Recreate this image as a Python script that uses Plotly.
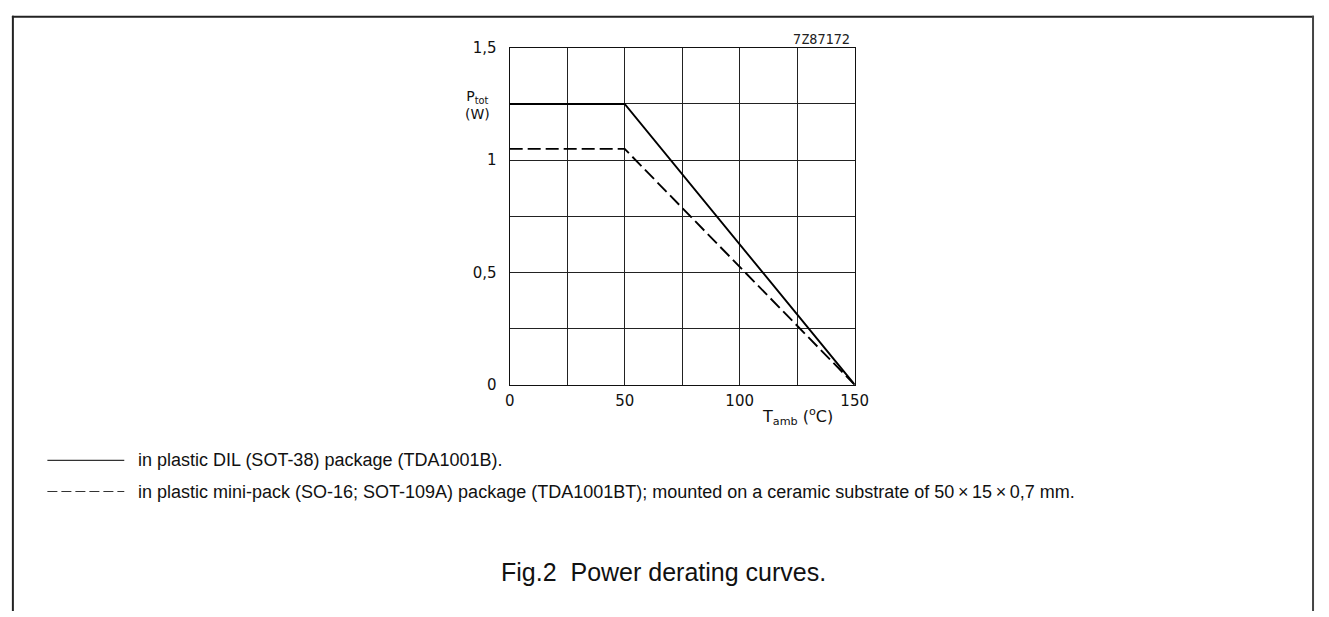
import plotly.graph_objects as go

W, H = 1329, 617

# data
t_solid = [0, 50, 150]
p_solid = [1.25, 1.25, 0]
t_dash = [0, 50, 150]
p_dash = [1.05, 1.05, 0]

x_ticks = [0, 50, 100, 150]
x_labels = ["0", "50", "100", "150"]
y_ticks = [0, 0.5, 1.0, 1.5]
y_labels = ["0", "0,5", "1", "1,5"]
x_grid_step = 25
y_grid_step = 0.25

legend_texts = [
    "in plastic DIL (SOT-38) package (TDA1001B).",
    "in plastic mini-pack (SO-16; SOT-109A) package (TDA1001BT); mounted on a ceramic substrate of 50\u2009\u00d7\u200915\u2009\u00d7\u20090,7 mm.",
]
caption = "Fig.2  Power derating curves."
code_label = "7Z87172"

def px(x):
    return x / W

def py(y):
    return 1 - y / H

fig = go.Figure()
fig.add_trace(go.Scatter(x=t_solid, y=p_solid, mode="lines",
                         line=dict(color="black", width=1.9), showlegend=False))
fig.add_trace(go.Scatter(x=t_dash, y=p_dash, mode="lines",
                         line=dict(color="black", width=1.9, dash="13px,5px"), showlegend=False))

axis_font = dict(family="DejaVu Sans, sans-serif", size=15, color="#111")
grid_col = "#222"
fig.update_layout(
    width=W, height=H,
    margin=dict(l=0, r=0, t=0, b=0),
    paper_bgcolor="white", plot_bgcolor="white",
    font=dict(family="Liberation Sans, Arial, sans-serif", color="#111"),
    xaxis=dict(domain=[px(512), px(862)], range=[0, 150], tickvals=x_ticks, ticktext=x_labels,
               showgrid=True, gridcolor=grid_col, gridwidth=1, zeroline=False,
               minor=dict(dtick=x_grid_step, tick0=0, showgrid=True, gridcolor=grid_col, gridwidth=1),
               showline=True, linecolor="#111", linewidth=1.2, mirror=True,
               ticks="", tickfont=axis_font, ticklabelstandoff=2),
    yaxis=dict(domain=[py(387), py(40)], range=[0, 1.5], tickvals=y_ticks, ticktext=y_labels,
               showgrid=True, gridcolor=grid_col, gridwidth=1, zeroline=False,
               minor=dict(dtick=y_grid_step, tick0=0, showgrid=True, gridcolor=grid_col, gridwidth=1),
               showline=True, linecolor="#111", linewidth=1.2, mirror=True,
               ticks="", tickfont=axis_font, ticklabelstandoff=9),
)

annos = [
    dict(x=px(479), y=py(99), text="P<sub>tot</sub><br>(W)",
         font=dict(family="DejaVu Sans, sans-serif", size=14, color="#111")),
    dict(x=px(766), y=py(420), xanchor="left", text="T<sub>amb</sub> (<sup>o</sup>C)",
         font=dict(family="DejaVu Sans, sans-serif", size=16, color="#111")),
    dict(x=px(859), y=py(31), xanchor="right", text=code_label,
         font=dict(family="DejaVu Sans Mono, monospace", size=13.5, color="#222")),
    dict(x=px(668), y=py(580), text=caption,
         font=dict(family="Liberation Sans, Arial, sans-serif", size=25, color="#111")),
]
for a in annos:
    fig.add_annotation(xref="paper", yref="paper", showarrow=False, yanchor="middle", **a)

for i, (txt, yy) in enumerate(zip(legend_texts, [465, 497])):
    fig.add_annotation(xref="paper", yref="paper", x=px(133), y=py(yy), xanchor="left", yanchor="middle",
                       text=txt, showarrow=False,
                       font=dict(family="Liberation Sans, Arial, sans-serif", size=18, color="#111"))
    fig.add_shape(type="line", xref="paper", yref="paper", x0=px(43), x1=px(121), y0=py(yy), y1=py(yy),
                  line=dict(color="#333", width=1.2, dash="solid" if i == 0 else "10px,4px"))

# page border
fig.add_shape(type="line", xref="paper", yref="paper", x0=px(7), x1=px(1328), y0=py(8), y1=py(8),
              line=dict(color="#222", width=2))
fig.add_shape(type="line", xref="paper", yref="paper", x0=px(8), x1=px(8), y0=py(7), y1=py(620),
              line=dict(color="#222", width=2))
fig.add_shape(type="line", xref="paper", yref="paper", x0=px(1327), x1=px(1327), y0=py(7), y1=py(620),
              line=dict(color="#444", width=2))

fig.write_html("out.html", post_script="document.body.style.margin='0';",
               config={"displayModeBar": False})
